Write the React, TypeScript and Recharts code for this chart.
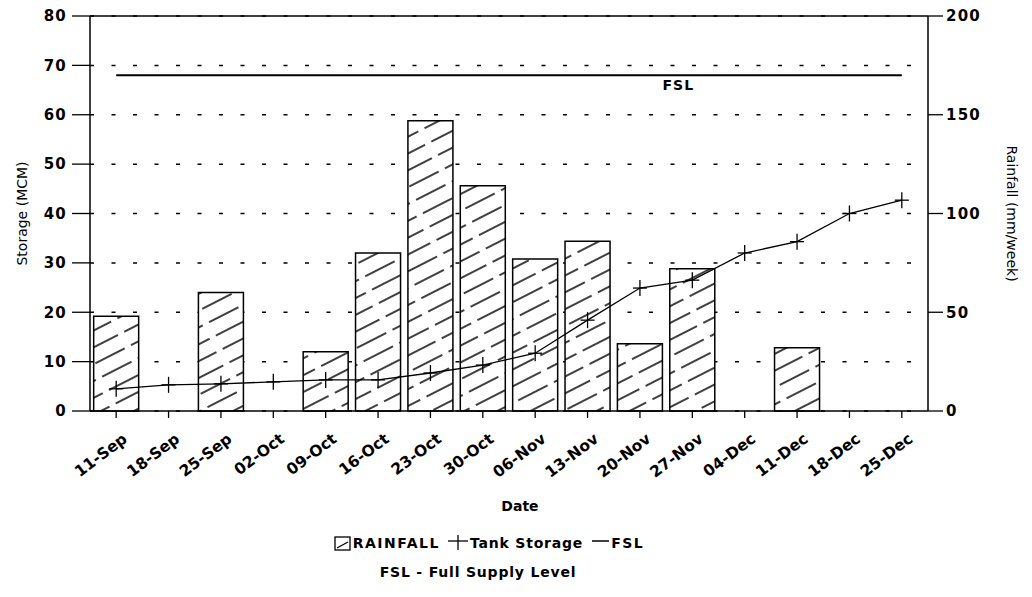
import React from 'react';
import {
  ComposedChart, Bar, Line, XAxis, YAxis, CartesianGrid, ReferenceLine, ReferenceDot,
} from 'recharts';

const dates = [
  '11-Sep', '18-Sep', '25-Sep', '02-Oct', '09-Oct', '16-Oct', '23-Oct', '30-Oct',
  '06-Nov', '13-Nov', '20-Nov', '27-Nov', '04-Dec', '11-Dec', '18-Dec', '25-Dec',
];
// mm/week, right axis
const rainfall = [48, 0, 60, 0, 30, 80, 147, 114, 77, 86, 34, 72, 0, 32, 0, 0];
// MCM, left axis
const storage = [4.5, 5.3, 5.5, 5.9, 6.3, 6.3, 7.7, 9.3, 11.7, 18.4, 24.9, 26.5, 32, 34.3, 40, 42.7];
const FSL_LEVEL = 68;
const storageTicks = [0, 10, 20, 30, 40, 50, 60, 70, 80];
const rainTicks = [0, 50, 100, 150, 200];

const data = dates.map((d, i) => ({ date: d, rain: rainfall[i], storage: storage[i] }));

const FONT = '"DejaVu Sans", Arial, sans-serif';
const tickStyle = { fill: '#000', fontSize: 15, fontWeight: 'bold', fontFamily: FONT, letterSpacing: 1.2 };

const PlusDot = (props: any) => {
  const { cx, cy } = props;
  if (cx == null || cy == null) return null;
  return (
    <g stroke="#000" strokeWidth={1.3}>
      <line x1={cx - 7} y1={cy} x2={cx + 7} y2={cy} />
      <line x1={cx} y1={cy - 8} x2={cx} y2={cy + 8} />
    </g>
  );
};

const DateTick = (props: any) => {
  const { x, y, payload } = props;
  return (
    <g transform={`translate(${x + 12},${y + 21})`}>
      <text textAnchor="end" transform="rotate(-37)" fontFamily={FONT} fontWeight="bold"
        fontSize={15.5} fill="#000">
        {payload.value}
      </text>
    </g>
  );
};

export default function App() {
  return (
    <div style={{ position: 'absolute', left: 0, top: 0, width: 1032, height: 597, background: '#fff' }}>
      <ComposedChart width={1032} height={597} data={data} barCategoryGap="7%"
        margin={{ top: 16, right: 0, bottom: 106, left: 0 }}>
        <defs>
          <pattern id="hatch" patternUnits="userSpaceOnUse" width={40} height={15}
            patternTransform="rotate(-27)">
            <rect width={40} height={15} fill="#fff" />
            <line x1={0} y1={7} x2={40} y2={7} stroke="#000" strokeWidth={1.6} strokeDasharray="33 7" />
          </pattern>
        </defs>
        <CartesianGrid vertical={false} yAxisId="left" stroke="#000" strokeWidth={1.5}
          strokeDasharray="4 17.5" />
        <XAxis dataKey="date" tick={<DateTick />} tickLine={{ stroke: '#000', strokeWidth: 1.3 }}
          axisLine={{ stroke: '#000', strokeWidth: 1.5 }} tickSize={7} height={80} interval={0} />
        <YAxis yAxisId="left" domain={[0, 80]} ticks={storageTicks} width={90}
          tickSize={18} tickMargin={5} tick={tickStyle}
          tickLine={{ stroke: '#000', strokeWidth: 1.3 }} axisLine={{ stroke: '#000', strokeWidth: 1.5 }}
          label={{ value: 'Storage (MCM)', angle: -90, position: 'insideLeft', offset: 22,
            style: { fontSize: 14, fontFamily: FONT, fill: '#000', textAnchor: 'middle' } }} />
        <YAxis yAxisId="right" orientation="right" domain={[0, 200]} ticks={rainTicks} width={104}
          tickSize={15} tickMargin={3} tick={tickStyle}
          tickLine={{ stroke: '#000', strokeWidth: 1.3 }} axisLine={{ stroke: '#000', strokeWidth: 1.5 }}
          label={{ value: 'Rainfall (mm/week)', angle: 90, position: 'insideRight', offset: 20,
            style: { fontSize: 14, fontFamily: FONT, fill: '#000', textAnchor: 'middle' } }} />
        <ReferenceLine yAxisId="left" y={80} stroke="#000" strokeWidth={1.5} />
        <Bar yAxisId="right" dataKey="rain" fill="url(#hatch)" stroke="#000" strokeWidth={1.5}
          isAnimationActive={false} />
        <ReferenceLine yAxisId="left" stroke="#000" strokeWidth={2}
          segment={[{ x: dates[0], y: FSL_LEVEL }, { x: dates[dates.length - 1], y: FSL_LEVEL }]} />
        <ReferenceDot yAxisId="left" x="27-Nov" y={FSL_LEVEL} r={0} stroke="none"
          label={{ value: 'FSL', position: 'bottom', dx: -14, dy: 0,
            style: { fontSize: 14, fontWeight: 'bold', fontFamily: FONT, fill: '#000', letterSpacing: 1 } }} />
        <Line yAxisId="left" dataKey="storage" stroke="#000" strokeWidth={1.3} dot={<PlusDot />}
          activeDot={false} isAnimationActive={false} type="linear" />
      </ComposedChart>
      <div style={{ position: 'absolute', left: 420, width: 200, top: 498, textAlign: 'center',
        fontFamily: FONT, fontWeight: 'bold', fontSize: 14 }}>
        Date
      </div>
      <div style={{ position: 'absolute', left: 289, width: 400, top: 535, fontFamily: FONT, fontWeight: 'bold',
        fontSize: 14, display: 'flex', alignItems: 'center', justifyContent: 'center', whiteSpace: 'nowrap' }}>
        <svg width={17} height={15} style={{ marginRight: 2 }}>
          <rect x={1} y={1} width={15} height={13} fill="#fff" stroke="#000" strokeWidth={1.3} />
          <line x1={3} y1={12} x2={14} y2={6} stroke="#000" strokeWidth={1.3} />
        </svg>
        <span style={{ letterSpacing: 1.5 }}>RAINFALL</span>
        <svg width={24} height={16} style={{ marginLeft: 6 }}>
          <line x1={2} y1={6} x2={22} y2={6} stroke="#000" strokeWidth={1.3} />
          <line x1={12} y1={0} x2={12} y2={15} stroke="#000" strokeWidth={1.3} />
        </svg>
        <span style={{ letterSpacing: 0.8 }}>Tank Storage</span>
        <svg width={22} height={14} style={{ marginLeft: 6 }}>
          <line x1={3} y1={5} x2={20} y2={5} stroke="#000" strokeWidth={1.5} />
        </svg>
        <span style={{ letterSpacing: 1.5 }}>FSL</span>
      </div>
      <div style={{ position: 'absolute', left: 278, width: 400, top: 564, textAlign: 'center',
        fontFamily: FONT, fontWeight: 'bold', fontSize: 14, letterSpacing: 0.8 }}>
        FSL - Full Supply Level
      </div>
    </div>
  );
}
